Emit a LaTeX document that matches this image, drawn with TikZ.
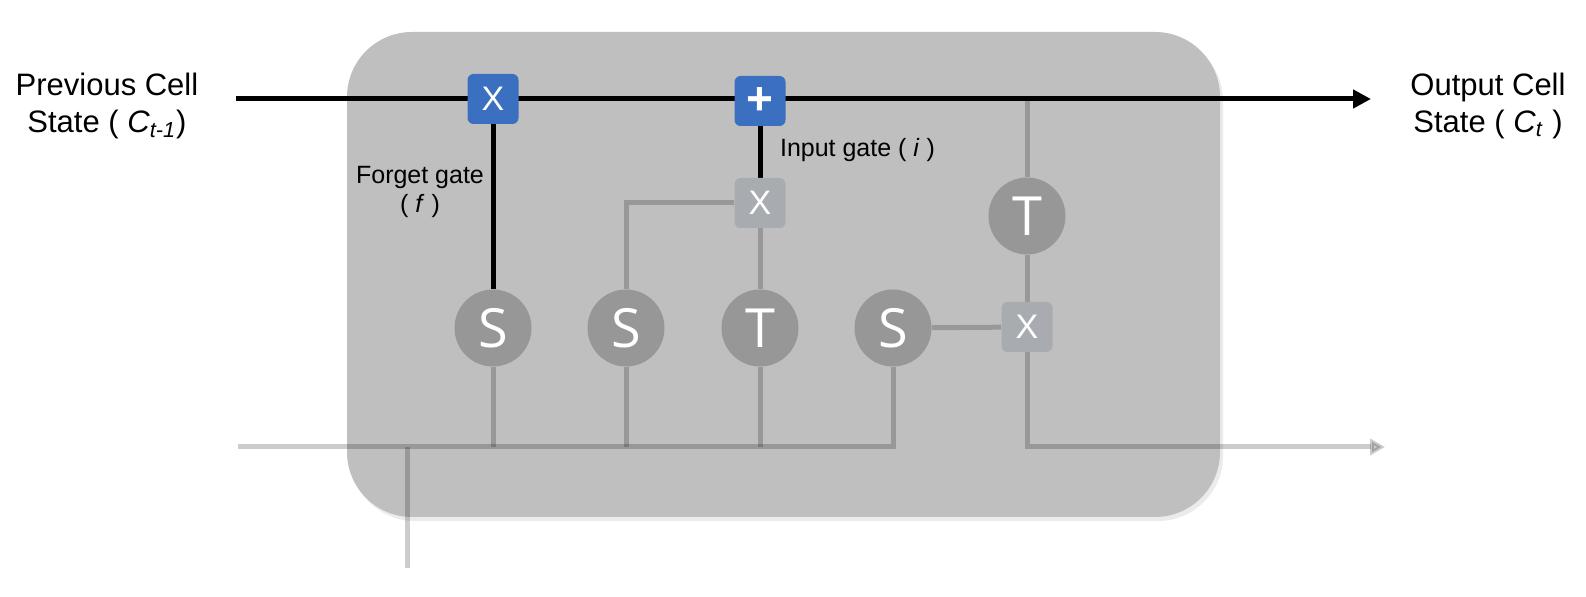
\documentclass[tikz,border=0pt]{standalone}
\usepackage{fontspec}
\setmainfont{Liberation Sans}
\newfontfamily\gatefont{Open Sans}
\usetikzlibrary{arrows.meta}
\definecolor{cellgray}{HTML}{BFBFBF}
\definecolor{opblue}{HTML}{3B70C0}
\definecolor{opgray}{HTML}{A8ACB1}
\definecolor{actgray}{HTML}{979797}
\pgfdeclarelayer{cell}
\pgfdeclarelayer{wires}
\pgfsetlayers{cell,wires,main}
\begin{document}
\begin{tikzpicture}[x=0.5pt,y=-0.5pt,
  act/.style={circle,fill=actgray,minimum size=38.5pt,inner sep=0pt,text=white,font=\gatefont\fontsize{27}{27}\selectfont},
  op/.style={rounded corners=3pt,minimum width=25.5pt,minimum height=25pt,inner sep=0pt,text=white,font=\fontsize{17}{17}\selectfont},
  cellline/.style={line width=2.5pt,black},
  flow/.style={line width=2.5pt,draw=black,draw opacity=0.2,fill opacity=0.2},
  lbl/.style={font=\fontsize{12.5}{14.5}\selectfont,align=center},
  big/.style={font=\fontsize{15.5}{18.5}\selectfont,align=center}]
\useasboundingbox (0,0) rectangle (1586,597);
% cell body
\begin{pgfonlayer}{cell}
\fill[black!8,rounded corners=32.5pt] (350,36) rectangle (1223,521);
\fill[cellgray,rounded corners=32.5pt] (347,32) rectangle (1220,517);
\end{pgfonlayer}
% gates
\node[op,fill=opblue] (fx) at (493,99) {X};
\node[op,fill=opblue] (ad) at (760,101) {\fontsize{23}{23}\selectfont\bfseries +};
\node[op,fill=opgray] (ix) at (760,203) {X};
\node[op,fill=opgray] (ox) at (1027,327) {X};
\node[act] (fs) at (493,328) {S};
\node[act] (is) at (626,328) {S};
\node[act] (it) at (760,328) {T};
\node[act] (os) at (893,328) {S};
\node[act] (ct) at (1027,216) {T};
\coordinate (cin) at (236,99);
\coordinate (cout) at (1371,99);
\coordinate (hin) at (238,447);
\coordinate (hout) at (1385,447);
\coordinate (xin) at (407,568);
% labels
\node[big] (prev) at (107,106) {Previous Cell\\State ( \textit{C}\textsubscript{\textit{t-1}})};
\node[big] (outc) at (1488,106) {Output Cell\\State ( \textit{C}\textsubscript{\textit{t}} )};
\node[lbl] (fgl) at (420,192) {Forget gate\\( \textit{f} )};
\node[lbl,anchor=west] (igl) at (773,150) {Input gate ( \textit{i} )};
% connections
\begin{pgfonlayer}{wires}
\draw[flow] (ct |- cin) -- (ct);
\draw[flow] (ct) -- (ox);
\draw[flow,-{Triangle[length=7.5pt,width=8pt]}] (ox) |- (hout);
\draw[flow] (hin) -| (os);
\draw[flow] (fs) -- (fs |- hin);
\draw[flow] (is) -- (is |- hin);
\draw[flow] (it) -- (it |- hin);
\draw[flow] (xin) -- (xin |- hin);
\draw[flow] (is) |- (ix);
\draw[flow] (it) -- (ix);
\draw[flow] (os) -- (ox);
\draw[cellline,-{Triangle[length=9pt,width=9pt]}] (cin) -- (cout);
\draw[cellline] (fx) -- (fs);
\draw[cellline] (ad) -- (ix);
\end{pgfonlayer}
\end{tikzpicture}
\end{document}
